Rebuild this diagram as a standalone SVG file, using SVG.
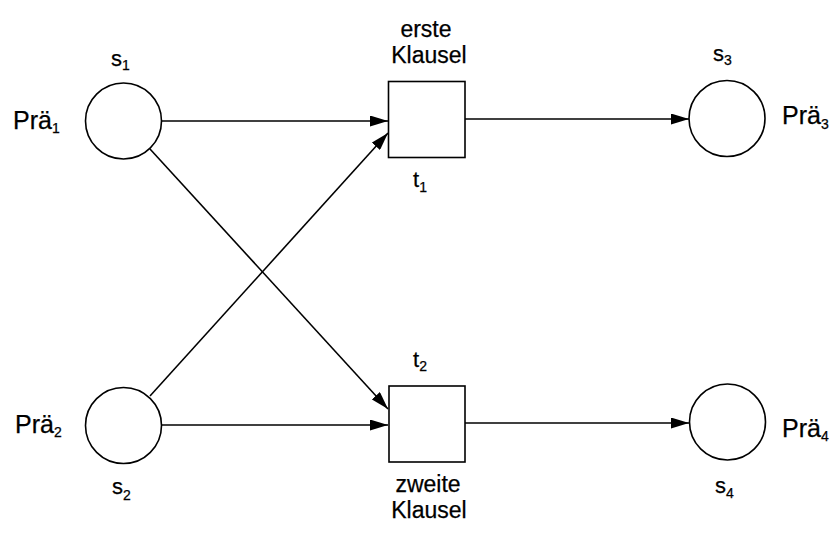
<svg xmlns="http://www.w3.org/2000/svg" width="833" height="534" viewBox="0 0 833 534">
  <style>
    .place { fill: #fff; stroke: #000; stroke-width: 1.6; }
    .trans { fill: #fff; stroke: #000; stroke-width: 1.6; }
    .arc { stroke: #000; stroke-width: 1.6; fill: none; }
    .lbl { font-family: "Liberation Sans", Arial, sans-serif; fill: #000; stroke: #000; stroke-width: 0.25; }
    .big { font-size: 25px; }
    .cap { font-size: 23px; }
    .mid { font-size: 22px; }
    .sub { font-size: 14px; }
  </style>
  <defs>
    <marker id="arrow" viewBox="0 0 18 11" refX="18" refY="5.5" markerWidth="18" markerHeight="11" markerUnits="userSpaceOnUse" orient="auto">
      <path d="M0,0 L18,5.5 L0,11 Z" fill="#000"/>
    </marker>
  </defs>

  <!-- arcs -->
  <g id="connectors">
    <line class="arc" x1="161" y1="121" x2="388" y2="121" marker-end="url(#arrow)"/>
    <line class="arc" x1="150" y1="396" x2="388" y2="133" marker-end="url(#arrow)"/>
    <line class="arc" x1="150" y1="149" x2="388" y2="409" marker-end="url(#arrow)"/>
    <line class="arc" x1="161" y1="425" x2="388" y2="425" marker-end="url(#arrow)"/>
    <line class="arc" x1="465" y1="119" x2="689" y2="119" marker-end="url(#arrow)"/>
    <line class="arc" x1="465" y1="423" x2="689" y2="423" marker-end="url(#arrow)"/>
  </g>

  <!-- place s1 -->
  <g id="s1">
    <circle class="place" cx="123.5" cy="121" r="38"/>
    <text class="lbl mid" x="111" y="66">s<tspan class="sub" dy="4">1</tspan></text>
    <text class="lbl big" x="13" y="129">Prä<tspan class="sub" dy="4">1</tspan></text>
  </g>

  <!-- place s2 -->
  <g id="s2">
    <circle class="place" cx="123.5" cy="425.5" r="38"/>
    <text class="lbl mid" x="112" y="494">s<tspan class="sub" dy="6">2</tspan></text>
    <text class="lbl big" x="15" y="433">Prä<tspan class="sub" dy="4">2</tspan></text>
  </g>

  <!-- transition t1 -->
  <g id="t1">
    <rect class="trans" x="388.5" y="81.5" width="76.5" height="76"/>
    <text class="lbl cap" text-anchor="middle"><tspan x="426" y="37">erste</tspan><tspan x="429" y="63">Klausel</tspan></text>
    <text class="lbl mid" x="413" y="187">t<tspan class="sub" dy="5">1</tspan></text>
  </g>

  <!-- transition t2 -->
  <g id="t2">
    <rect class="trans" x="389" y="386" width="76" height="76"/>
    <text class="lbl mid" x="413" y="367">t<tspan class="sub" dy="4">2</tspan></text>
    <text class="lbl cap" text-anchor="middle"><tspan x="428" y="492">zweite</tspan><tspan x="429" y="518">Klausel</tspan></text>
  </g>

  <!-- place s3 -->
  <g id="s3">
    <circle class="place" cx="727" cy="118.5" r="38"/>
    <text class="lbl mid" x="713" y="61">s<tspan class="sub" dy="4">3</tspan></text>
    <text class="lbl big" x="782" y="124">Prä<tspan class="sub" dy="5">3</tspan></text>
  </g>

  <!-- place s4 -->
  <g id="s4">
    <circle class="place" cx="727.5" cy="422" r="38"/>
    <text class="lbl mid" x="715" y="493">s<tspan class="sub" dy="5">4</tspan></text>
    <text class="lbl big" x="782" y="437">Prä<tspan class="sub" dy="4">4</tspan></text>
  </g>
</svg>
